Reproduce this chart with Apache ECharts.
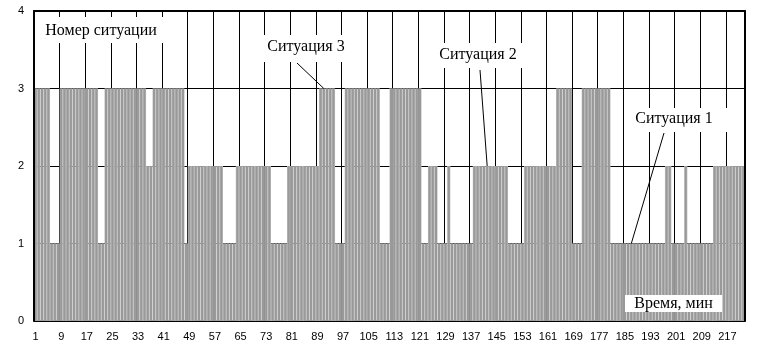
<!DOCTYPE html>
<html><head><meta charset="utf-8">
<script src="https://cdn.jsdelivr.net/npm/echarts@6/dist/echarts.min.js"></script>
<style>html,body{margin:0;padding:0;background:#fff}#c{width:770px;height:360px}</style>
</head><body><div id="c"></div><script>
// time, minutes (1..222)
const categories = Array.from({length: 222}, (_, i) => String(i + 1));
// situation number per minute (rows of 8 minutes)
const situation = [
  3,3,3,3,3,1,1,1,
  3,3,3,3,3,3,3,3,
  3,3,3,3,1,1,3,3,
  3,3,3,3,3,3,3,3,
  3,3,3,2,2,3,3,3,
  3,3,3,3,3,3,3,1,
  2,2,2,2,2,2,2,2,
  2,2,2,1,1,1,1,2,
  2,2,2,2,2,2,2,2,
  2,2,1,1,1,1,1,2,
  2,2,2,2,2,2,2,2,
  2,3,3,3,3,3,1,1,
  1,3,3,3,3,3,3,3,
  3,3,3,3,1,1,1,3,
  3,3,3,3,3,3,3,3,
  3,1,1,2,2,2,1,1,
  1,2,1,1,1,1,1,1,
  1,2,2,2,2,2,2,2,
  2,2,2,2,1,1,1,1,
  1,2,2,2,2,2,2,2,
  2,2,2,3,3,3,3,3,
  1,1,1,3,3,3,3,3,
  3,3,3,3,1,1,1,1,
  1,1,1,1,1,1,1,1,
  1,1,1,1,1,2,2,1,
  1,1,1,2,1,1,1,1,
  1,1,1,1,2,2,2,2,
  2,2,2,2,2,2
];
const yTickValues = [0, 1, 2, 3, 4];
const titleY = 'Номер ситуации';
const titleX = 'Время, мин';
// annotations: label text, pointed category index and value
const notes = [
  {text: 'Ситуация 3', cat: 90, value: 3},
  {text: 'Ситуация 2', cat: 141, value: 2},
  {text: 'Ситуация 1', cat: 186, value: 1}
];

const chart = echarts.init(document.getElementById('c'), null, {renderer: 'canvas'});
const black = '#000';
const baseY = {type: 'value', min: yTickValues[0], max: yTickValues[yTickValues.length - 1], interval: 1};
chart.setOption({
  animation: false,
  grid: {left: 34, right: 25, top: 11, bottom: 39, containLabel: false},
  xAxis: [
    {type: 'category', data: categories, position: 'bottom', boundaryGap: true, z: 0,
     axisLine: {show: true, onZero: false, lineStyle: {color: black, width: 1.5}},
     axisTick: {show: false},
     axisLabel: {interval: 7, color: black, fontFamily: 'Liberation Sans', fontSize: 11, margin: 10},
     splitLine: {show: true, interval: 7, lineStyle: {color: black, width: 1}}},
    {type: 'category', data: categories, position: 'top', boundaryGap: true, z: 5,
     axisLine: {show: true, onZero: false, lineStyle: {color: black, width: 2}},
     axisTick: {show: false}, axisLabel: {show: false}, splitLine: {show: false}}
  ],
  yAxis: [
    Object.assign({}, baseY, {position: 'left', z: 5,
      axisLine: {show: true, onZero: false, lineStyle: {color: black, width: 2}},
      axisTick: {show: false},
      axisLabel: {color: black, fontFamily: 'Liberation Sans', fontSize: 11, margin: 10},
      splitLine: {show: false}}),
    Object.assign({}, baseY, {position: 'right', z: 5,
      axisLine: {show: true, onZero: false, lineStyle: {color: black, width: 2}},
      axisTick: {show: false}, axisLabel: {show: false}, splitLine: {show: false}}),
    Object.assign({}, baseY, {position: 'right', z: 0,
      axisLine: {show: false}, axisTick: {show: false}, axisLabel: {show: false},
      splitLine: {show: true, lineStyle: {color: black, width: 1}}})
  ],
  series: [
    {type: 'bar', xAxisIndex: 0, yAxisIndex: 0, data: situation, barCategoryGap: '0%',
     itemStyle: {color: '#c0c0c0'}, silent: true},
    {type: 'bar', xAxisIndex: 1, yAxisIndex: 0, data: situation, barWidth: '66%',
     itemStyle: {color: '#999999'}, silent: true}
  ]
});

const font = '16px "Liberation Serif"';
function box(x, y, w, h) {
  return {type: 'rect', z: 100, shape: {x: x, y: y, width: w, height: h}, style: {fill: '#fff'}, silent: true};
}
function txt(s, x, y) {
  return {type: 'text', z: 101, x: x, y: y, style: {text: s, font: font, fill: black, align: 'center', verticalAlign: 'middle'}, silent: true};
}
const boxes = [[262, 35, 86, 27], [436, 43, 87, 25], [630, 108, 98, 24]];
const textPos = [[306, 47], [478, 55], [674, 118.5]];
const lineStart = [[297, 63], [480, 70], [664, 133]];
const g = [box(39, 17, 126, 26), txt(titleY, 101, 30.5), box(625, 295, 97, 17), txt(titleX, 673.5, 303.5)];
notes.forEach((n, i) => {
  const end = chart.convertToPixel({xAxisIndex: 0, yAxisIndex: 0}, [n.cat, n.value]);
  g.push(box.apply(null, boxes[i]));
  g.push(txt(n.text, textPos[i][0], textPos[i][1]));
  g.push({type: 'line', z: 102, shape: {x1: lineStart[i][0], y1: lineStart[i][1], x2: end[0], y2: end[1]},
          style: {stroke: black, lineWidth: 1}, silent: true});
});
chart.setOption({graphic: g});
</script></body></html>
